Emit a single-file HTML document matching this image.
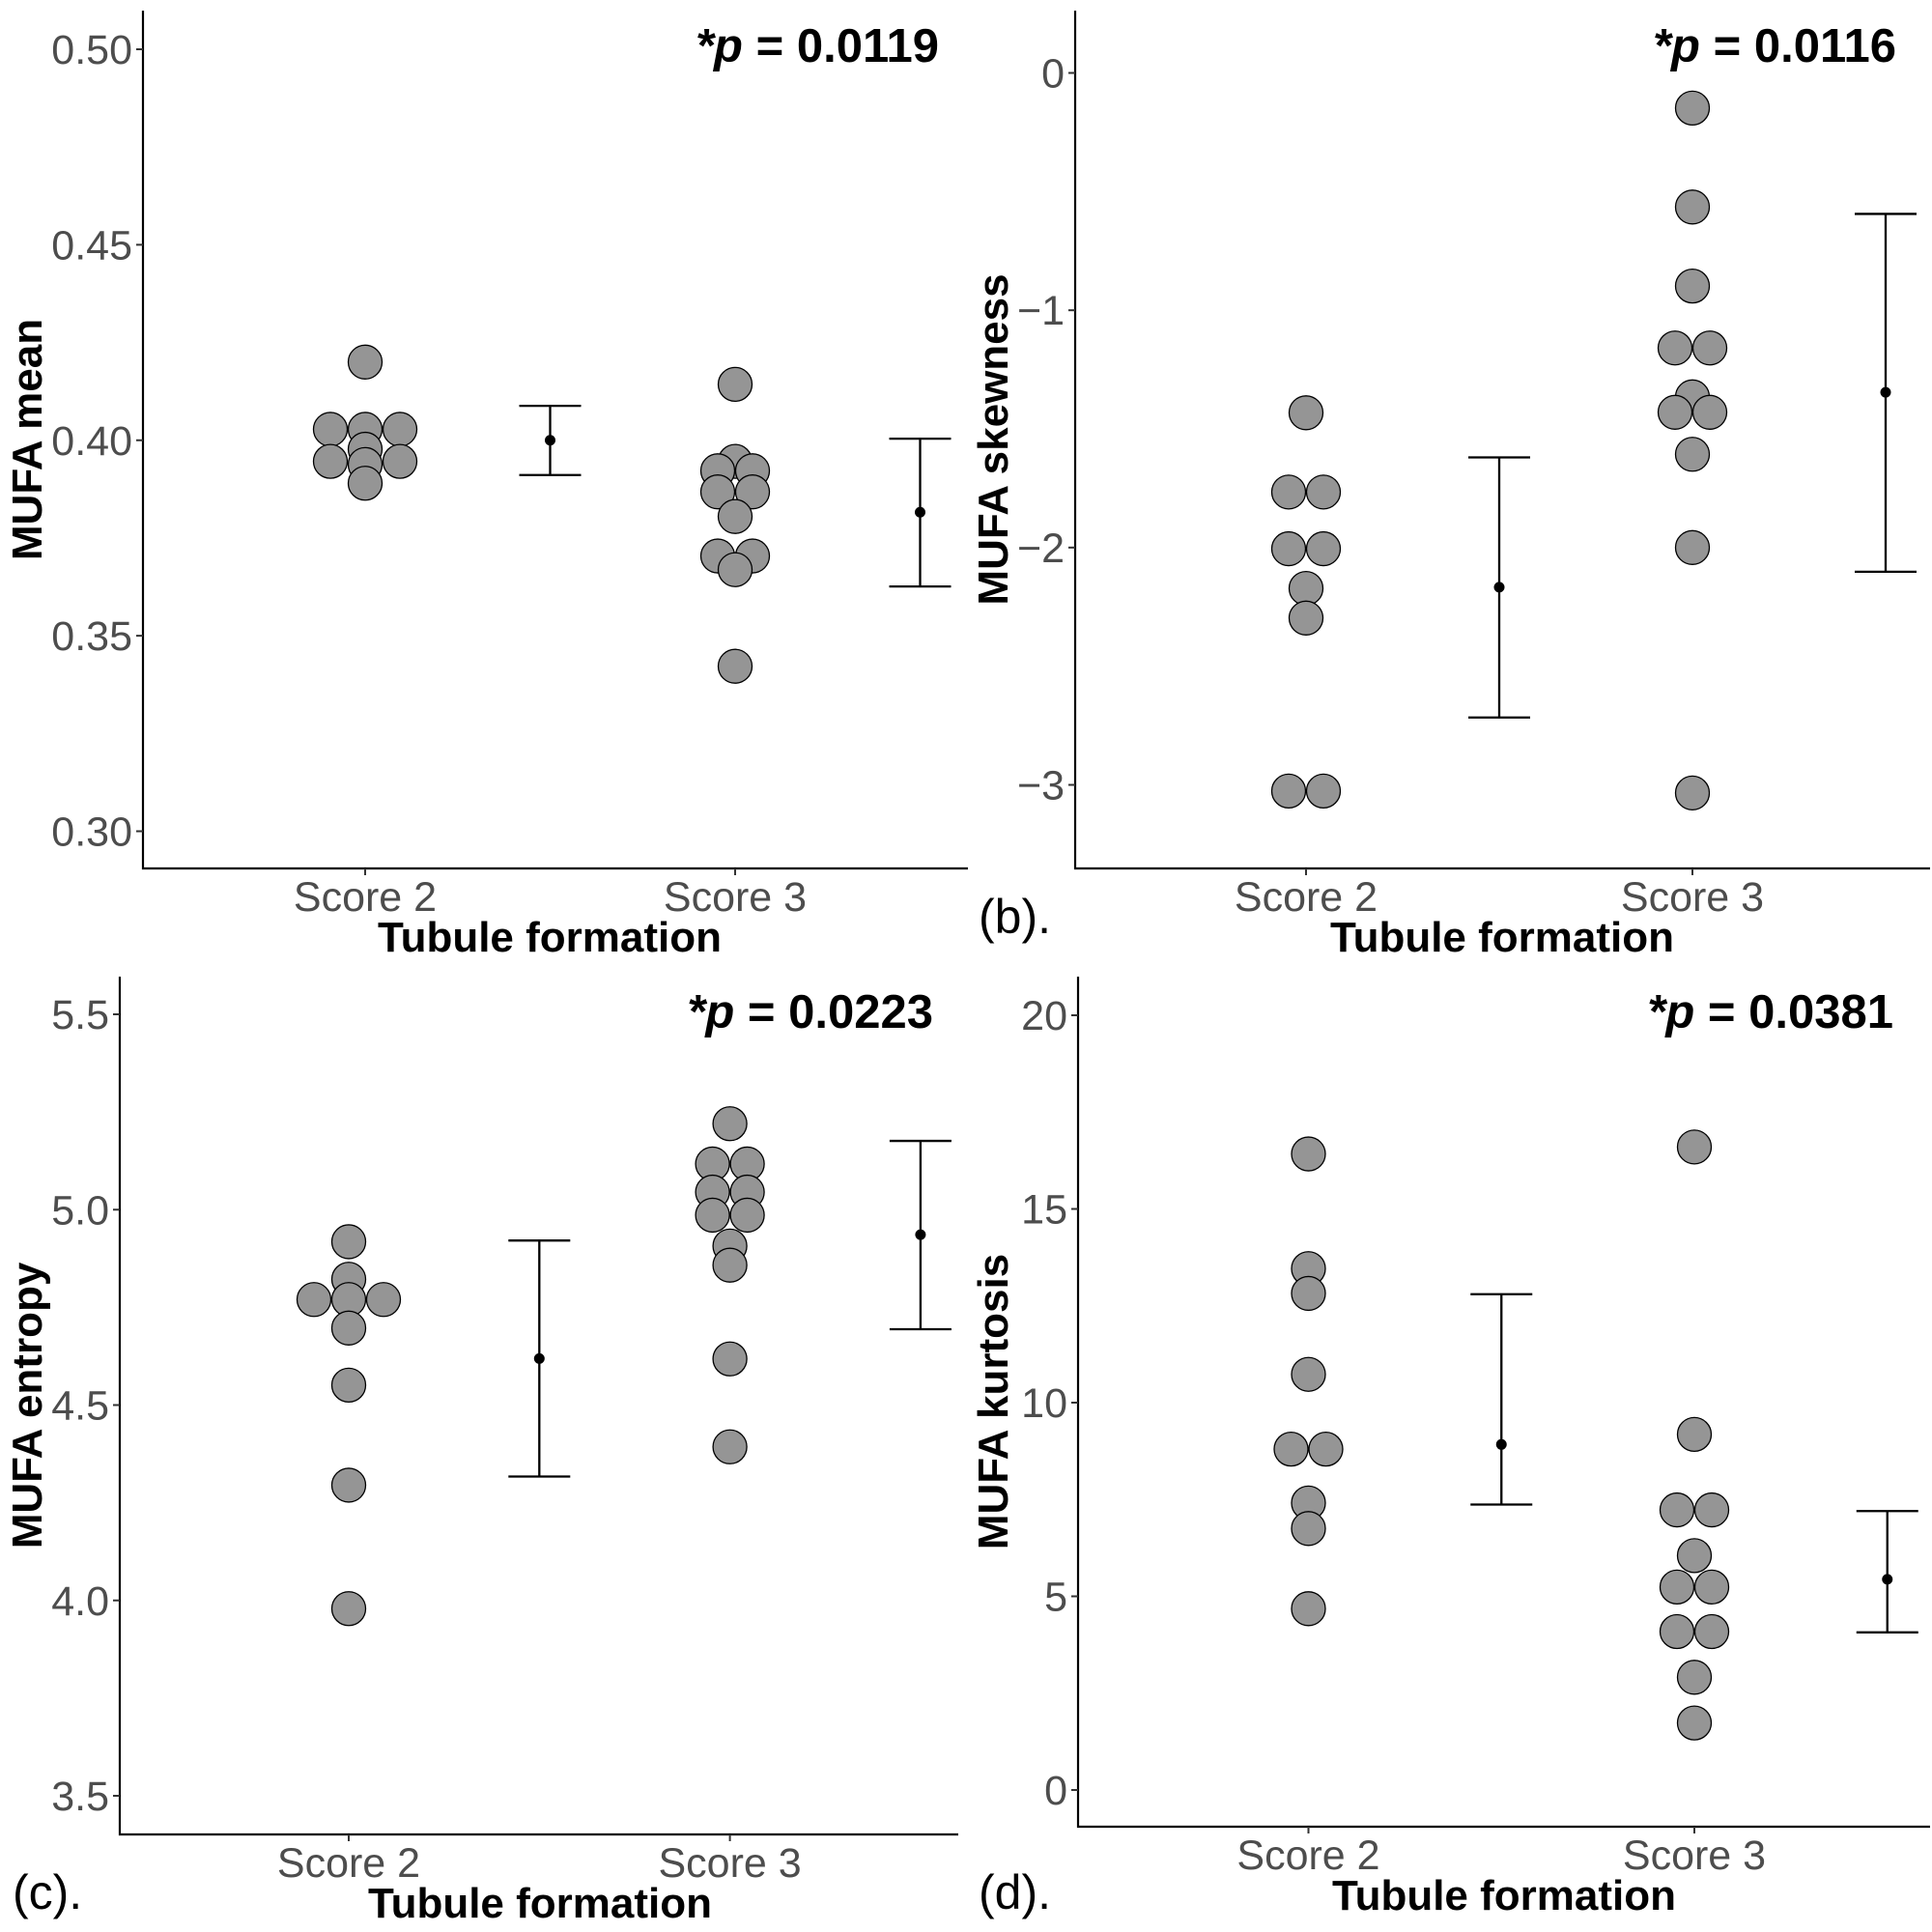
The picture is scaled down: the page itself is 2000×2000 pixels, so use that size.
<!DOCTYPE html>
<html><head><meta charset="utf-8"><style>
html,body{margin:0;padding:0;background:#fff;}
svg{display:block;}
text{font-family:"Liberation Sans",Arial,sans-serif;}
</style></head><body>
<svg id="fig" width="2000" height="2000" viewBox="0 0 2000 2000" xmlns="http://www.w3.org/2000/svg"></svg>
<script>
// ---- data ----
const categories = ["Score 2", "Score 3"];
const xTitle = "Tubule formation";

// panel a: MUFA mean
const aTicks = [0.30, 0.35, 0.40, 0.45, 0.50];
const aTickLabels = ["0.30", "0.35", "0.40", "0.45", "0.50"];
const aScore2 = [0.420, 0.4028, 0.4028, 0.4028, 0.3977, 0.3946, 0.3946, 0.3938, 0.389];
const aScore2Stack = [0, -2, 0, 2, 0, -2, 2, 0, 0];
const aScore3 = [0.4143, 0.3946, 0.3922, 0.3922, 0.3868, 0.3868, 0.3805, 0.3704, 0.3704, 0.3669, 0.3422];
const aScore3Stack = [0, 0, -1, 1, -1, 1, 0, -1, 1, 0, 0];
const aMean = [0.400, 0.3816];
const aUpper = [0.4088, 0.4004];
const aLower = [0.3911, 0.3626];

// panel b: MUFA skewness
const bTicks = [-3, -2, -1, 0];
const bTickLabels = ["\u22123", "\u22122", "\u22121", "0"];
const bScore2 = [-1.432, -1.766, -1.766, -2.005, -2.005, -2.172, -2.297, -3.026, -3.026];
const bScore2Stack = [0, -1, 1, -1, 1, 0, 0, -1, 1];
const bScore3 = [-0.148, -0.565, -0.898, -1.159, -1.159, -1.365, -1.43, -1.43, -1.607, -2.0, -3.034];
const bScore3Stack = [0, 0, 0, -1, 1, 0, -1, 1, 0, 0, 0];
const bMean = [-2.167, -1.346];
const bUpper = [-1.62, -0.594];
const bLower = [-2.716, -2.102];

// panel c: MUFA entropy
const cTicks = [3.5, 4.0, 4.5, 5.0, 5.5];
const cTickLabels = ["3.5", "4.0", "4.5", "5.0", "5.5"];
const cScore2 = [4.918, 4.822, 4.770, 4.770, 4.770, 4.697, 4.551, 4.295, 3.979];
const cScore2Stack = [0, 0, -2, 0, 2, 0, 0, 0, 0];
const cScore3 = [5.220, 5.117, 5.117, 5.045, 5.045, 4.986, 4.986, 4.907, 4.858, 4.618, 4.393];
const cScore3Stack = [0, -1, 1, -1, 1, -1, 1, 0, 0, 0, 0];
const cMean = [4.619, 4.936];
const cUpper = [4.921, 5.176];
const cLower = [4.317, 4.694];

// panel d: MUFA kurtosis
const dTicks = [0, 5, 10, 15, 20];
const dTickLabels = ["0", "5", "10", "15", "20"];
const dScore2 = [16.42, 13.46, 12.82, 10.73, 8.80, 8.80, 7.41, 6.75, 4.68];
const dScore2Stack = [0, 0, 0, 0, -1, 1, 0, 0, 0];
const dScore3 = [16.6, 9.18, 7.23, 7.23, 6.05, 5.24, 5.24, 4.09, 4.09, 2.91, 1.73];
const dScore3Stack = [0, 0, -1, 1, 0, -1, 1, -1, 1, 0, 0];
const dMean = [8.92, 5.44];
const dUpper = [12.80, 7.20];
const dLower = [7.37, 4.07];

const pLabels = ["0.0119", "0.0116", "0.0223", "0.0381"];
const yTitles = ["MUFA mean", "MUFA skewness", "MUFA entropy", "MUFA kurtosis"];
const panelTags = ["", "(b).", "(c).", "(d)."];

// ---- layout ----
const NS = "http://www.w3.org/2000/svg";
const svg = document.getElementById("fig");
function mk(tag, attrs, parent) {
  const e = document.createElementNS(NS, tag);
  for (const k in attrs) e.setAttribute(k, attrs[k]);
  (parent || svg).appendChild(e);
  return e;
}

const panels = [
  {key:"a", ox:0, oy:0, left:148, top:11, right:1002, bottom:899, v1:0.50, p1:51, v2:0.30, p2:860.5, x1:378, unit:383, pRight:972, tc:569,
   ticks:aTicks, tl:aTickLabels, s2:aScore2, s2k:aScore2Stack, s3:aScore3, s3k:aScore3Stack, mean:aMean, up:aUpper, lo:aLower},
  {key:"b", ox:1000, oy:0, left:113, top:11, right:998, bottom:899, v1:0, p1:75.5, v2:-3, p2:812.5, x1:352, unit:400, pRight:963, tc:555,
   ticks:bTicks, tl:bTickLabels, s2:bScore2, s2k:bScore2Stack, s3:bScore3, s3k:bScore3Stack, mean:bMean, up:bUpper, lo:bLower},
  {key:"c", ox:0, oy:1000, left:124, top:11, right:992, bottom:899, v1:5.5, p1:50, v2:3.5, p2:859, x1:361, unit:394.6, pRight:966, tc:559,
   ticks:cTicks, tl:cTickLabels, s2:cScore2, s2k:cScore2Stack, s3:cScore3, s3k:cScore3Stack, mean:cMean, up:cUpper, lo:cLower},
  {key:"d", ox:1000, oy:1000, left:116, top:11, right:998, bottom:891, v1:20, p1:51, v2:0, p2:853, x1:354.5, unit:399.5, pRight:960, tc:557,
   ticks:dTicks, tl:dTickLabels, s2:dScore2, s2k:dScore2Stack, s3:dScore3, s3k:dScore3Stack, mean:dMean, up:dUpper, lo:dLower}
];

const R = 17.5, HALF = 18;

panels.forEach((P, i) => {
  const g = mk("g", {transform:`translate(${P.ox},${P.oy})`});
  
  
  const y = v => P.p1 + (P.v1 - v) / (P.v1 - P.v2) * (P.p2 - P.p1);
  const x = k => P.x1 + (k - 1) * P.unit;

  const ax = mk("path", {d:`M${P.left},${P.top}V${P.bottom}H${P.right}`, fill:"none", stroke:"#000", "stroke-width":2.2}, g);
  
  

  P.ticks.forEach((t, j) => {
    const ty = y(t);
    const tk = mk("line", {x1:P.left-7, x2:P.left, y1:ty, y2:ty, stroke:"#333", "stroke-width":2}, g);
    
    
    const lab = mk("text", {x:P.left-11, y:ty+15, "text-anchor":"end", "font-size":43, fill:"#4d4d4d"}, g);
    lab.textContent = P.tl[j];
    
    
  });

  categories.forEach((c, j) => {
    const cx = x(j + 1);
    const tk = mk("line", {x1:cx, x2:cx, y1:P.bottom, y2:P.bottom+7, stroke:"#333", "stroke-width":2}, g);
    
    
    const lab = mk("text", {x:cx, y:P.bottom+44, "text-anchor":"middle", "font-size":43, fill:"#4d4d4d"}, g);
    lab.textContent = c;
    
    
  });

  const xt = mk("text", {x:P.tc, y:P.bottom+86, "text-anchor":"middle", "font-size":44, "font-weight":"bold", fill:"#000"}, g);
  xt.textContent = xTitle;
  
  
  const ycx = 43, ycy = (P.top + P.bottom) / 2;
  const yt = mk("text", {x:ycx, y:ycy, transform:`rotate(-90 ${ycx} ${ycy})`, "text-anchor":"middle", "font-size":44, "font-weight":"bold", fill:"#000"}, g);
  yt.textContent = yTitles[i];
  
  

  const pt = mk("text", {x:P.pRight, y:64, "text-anchor":"end", "font-size":49, "font-weight":"bold", fill:"#000"}, g);
  
  
  const s1 = mk("tspan", {"font-style":"italic"}, pt); s1.textContent = "*p";
  const s2 = mk("tspan", {}, pt); s2.textContent = " = " + pLabels[i];

  if (panelTags[i]) {
    const tg = mk("text", {x:13, y:(i===1?966:976), "font-size":50, fill:"#000"}, g);
    tg.textContent = panelTags[i];
    
    
  }

  [[P.s2, P.s2k, 1], [P.s3, P.s3k, 2]].forEach(([vals, stack, k]) => {
    vals.forEach((v, j) => {
      const c = mk("circle", {cx:x(k) + stack[j]*HALF, cy:y(v), r:R, fill:"#959595", stroke:"#000", "stroke-width":1.3}, g);
      
      
    });
  });

  P.mean.forEach((m, j) => {
    const bx = x(j + 1.5);
    const eb = mk("path", {d:`M${bx-32},${y(P.up[j])}H${bx+32}M${bx},${y(P.up[j])}V${y(P.lo[j])}M${bx-32},${y(P.lo[j])}H${bx+32}`, fill:"none", stroke:"#000", "stroke-width":2.3}, g);
    
    
    const md = mk("circle", {cx:bx, cy:y(m), r:5.5, fill:"#000"}, g);
    
    
  });
});
</script>
</body></html>
